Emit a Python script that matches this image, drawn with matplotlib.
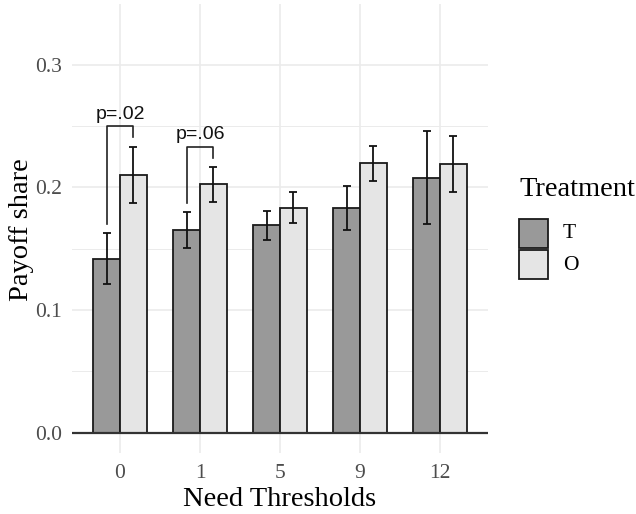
import matplotlib
matplotlib.use('Agg')
import matplotlib.pyplot as plt
from matplotlib.patches import Rectangle
import numpy as np

# data
thresholds = ['0', '1', '5', '9', '12']
share_T = [0.142, 0.165, 0.169, 0.183, 0.208]
lo_T = [0.121, 0.151, 0.157, 0.165, 0.170]
hi_T = [0.163, 0.180, 0.181, 0.201, 0.246]
share_O = [0.210, 0.203, 0.183, 0.220, 0.219]
lo_O = [0.187, 0.188, 0.171, 0.205, 0.196]
hi_O = [0.233, 0.217, 0.196, 0.234, 0.242]
treatments = ['T', 'O']
fills = ['#999999', '#E5E5E5']

# significance brackets: group index, label, bracket top, left leg end, right leg end
sig_groups = [0, 1]
sig_labels = ['p=.02', 'p=.06']
sig_top = [0.2497, 0.2333]
sig_left_end = [0.170, 0.187]
sig_right_end = [0.241, 0.224]

serif = 'Liberation Serif'
sans = 'Liberation Sans'
W, H = 636, 514

fig = plt.figure(figsize=(W/100, H/100), dpi=100)
ax = fig.add_axes([72/W, 1 - 453/H, (488-72)/W, (453-4)/H])

x = np.arange(len(thresholds))
w = 0.333
grid_c = '#EBEBEB'

# grid
for v in [0.05, 0.15, 0.25]:
    ax.axhline(v, color=grid_c, lw=0.7, zorder=0)
for v in [0.0, 0.1, 0.2, 0.3]:
    ax.axhline(v, color=grid_c, lw=1.2, zorder=0)
for xi in x:
    ax.axvline(xi, color=grid_c, lw=1.2, zorder=0)

ax.bar(x - w/2, share_T, w, color=fills[0], edgecolor='#1a1a1a', lw=1.3, zorder=2)
ax.bar(x + w/2, share_O, w, color=fills[1], edgecolor='#1a1a1a', lw=1.3, zorder=2)

err_T = [np.array(share_T) - np.array(lo_T), np.array(hi_T) - np.array(share_T)]
err_O = [np.array(share_O) - np.array(lo_O), np.array(hi_O) - np.array(share_O)]
ax.errorbar(x - w/2, share_T, yerr=err_T, fmt='none', ecolor='#111111',
            elinewidth=1.3, capsize=3, capthick=1.3, zorder=3)
ax.errorbar(x + w/2, share_O, yerr=err_O, fmt='none', ecolor='#111111',
            elinewidth=1.3, capsize=3, capthick=1.3, zorder=3)

ax.axhline(0, color='#333333', lw=1.6, zorder=4)

for g, lab, top, le, re in zip(sig_groups, sig_labels, sig_top, sig_left_end, sig_right_end):
    xl, xr = g - w/2, g + w/2
    ax.plot([xl, xl, xr, xr], [le, top, top, re], color='#222222', lw=1.2, zorder=4)
    ax.text(g, top + 0.003, lab, ha='center', va='bottom', fontsize=14,
            family=sans, color='#111111')

ax.set_xlim(-0.6, 4.6)
ax.set_ylim(-0.0166, 0.3496)
ax.set_xticks(x)
ax.set_xticklabels(thresholds)
ax.set_yticks([0.0, 0.1, 0.2, 0.3])
ax.set_yticklabels(['0.0', '0.1', '0.2', '0.3'])
ax.tick_params(length=0, labelsize=15.5, labelcolor='#4D4D4D')
ax.tick_params(axis='y', pad=7)
ax.tick_params(axis='x', pad=8)
for t in ax.get_xticklabels() + ax.get_yticklabels():
    t.set_family(serif)
for s in ax.spines.values():
    s.set_visible(False)

ax.set_xlabel('Need Thresholds', fontsize=20.5, family=serif, labelpad=3)
ax.set_ylabel('Payoff share', fontsize=20.5, family=serif, va='center', ha='center')
ax.yaxis.set_label_coords((21 - 72)/416, (453 - 230)/449)

# legend drawn by hand in pixel positions
fig.text(519/W, 1 - 190/H, 'Treatment', family=serif, fontsize=20.5,
         ha='left', va='center')
for i, (lab, fc) in enumerate(zip(treatments, fills)):
    top = 219 + i * 31
    fig.add_artist(Rectangle((519/W, 1 - (top + 29)/H), 29/W, 29/H,
                             transform=fig.transFigure, facecolor=fc,
                             edgecolor='#1a1a1a', lw=1.3))
    fig.text(563/W, 1 - (top + 15)/H, lab, family=serif, fontsize=15.5,
             ha='left', va='center')

plt.savefig('out.png', dpi=100)
plt.close()
